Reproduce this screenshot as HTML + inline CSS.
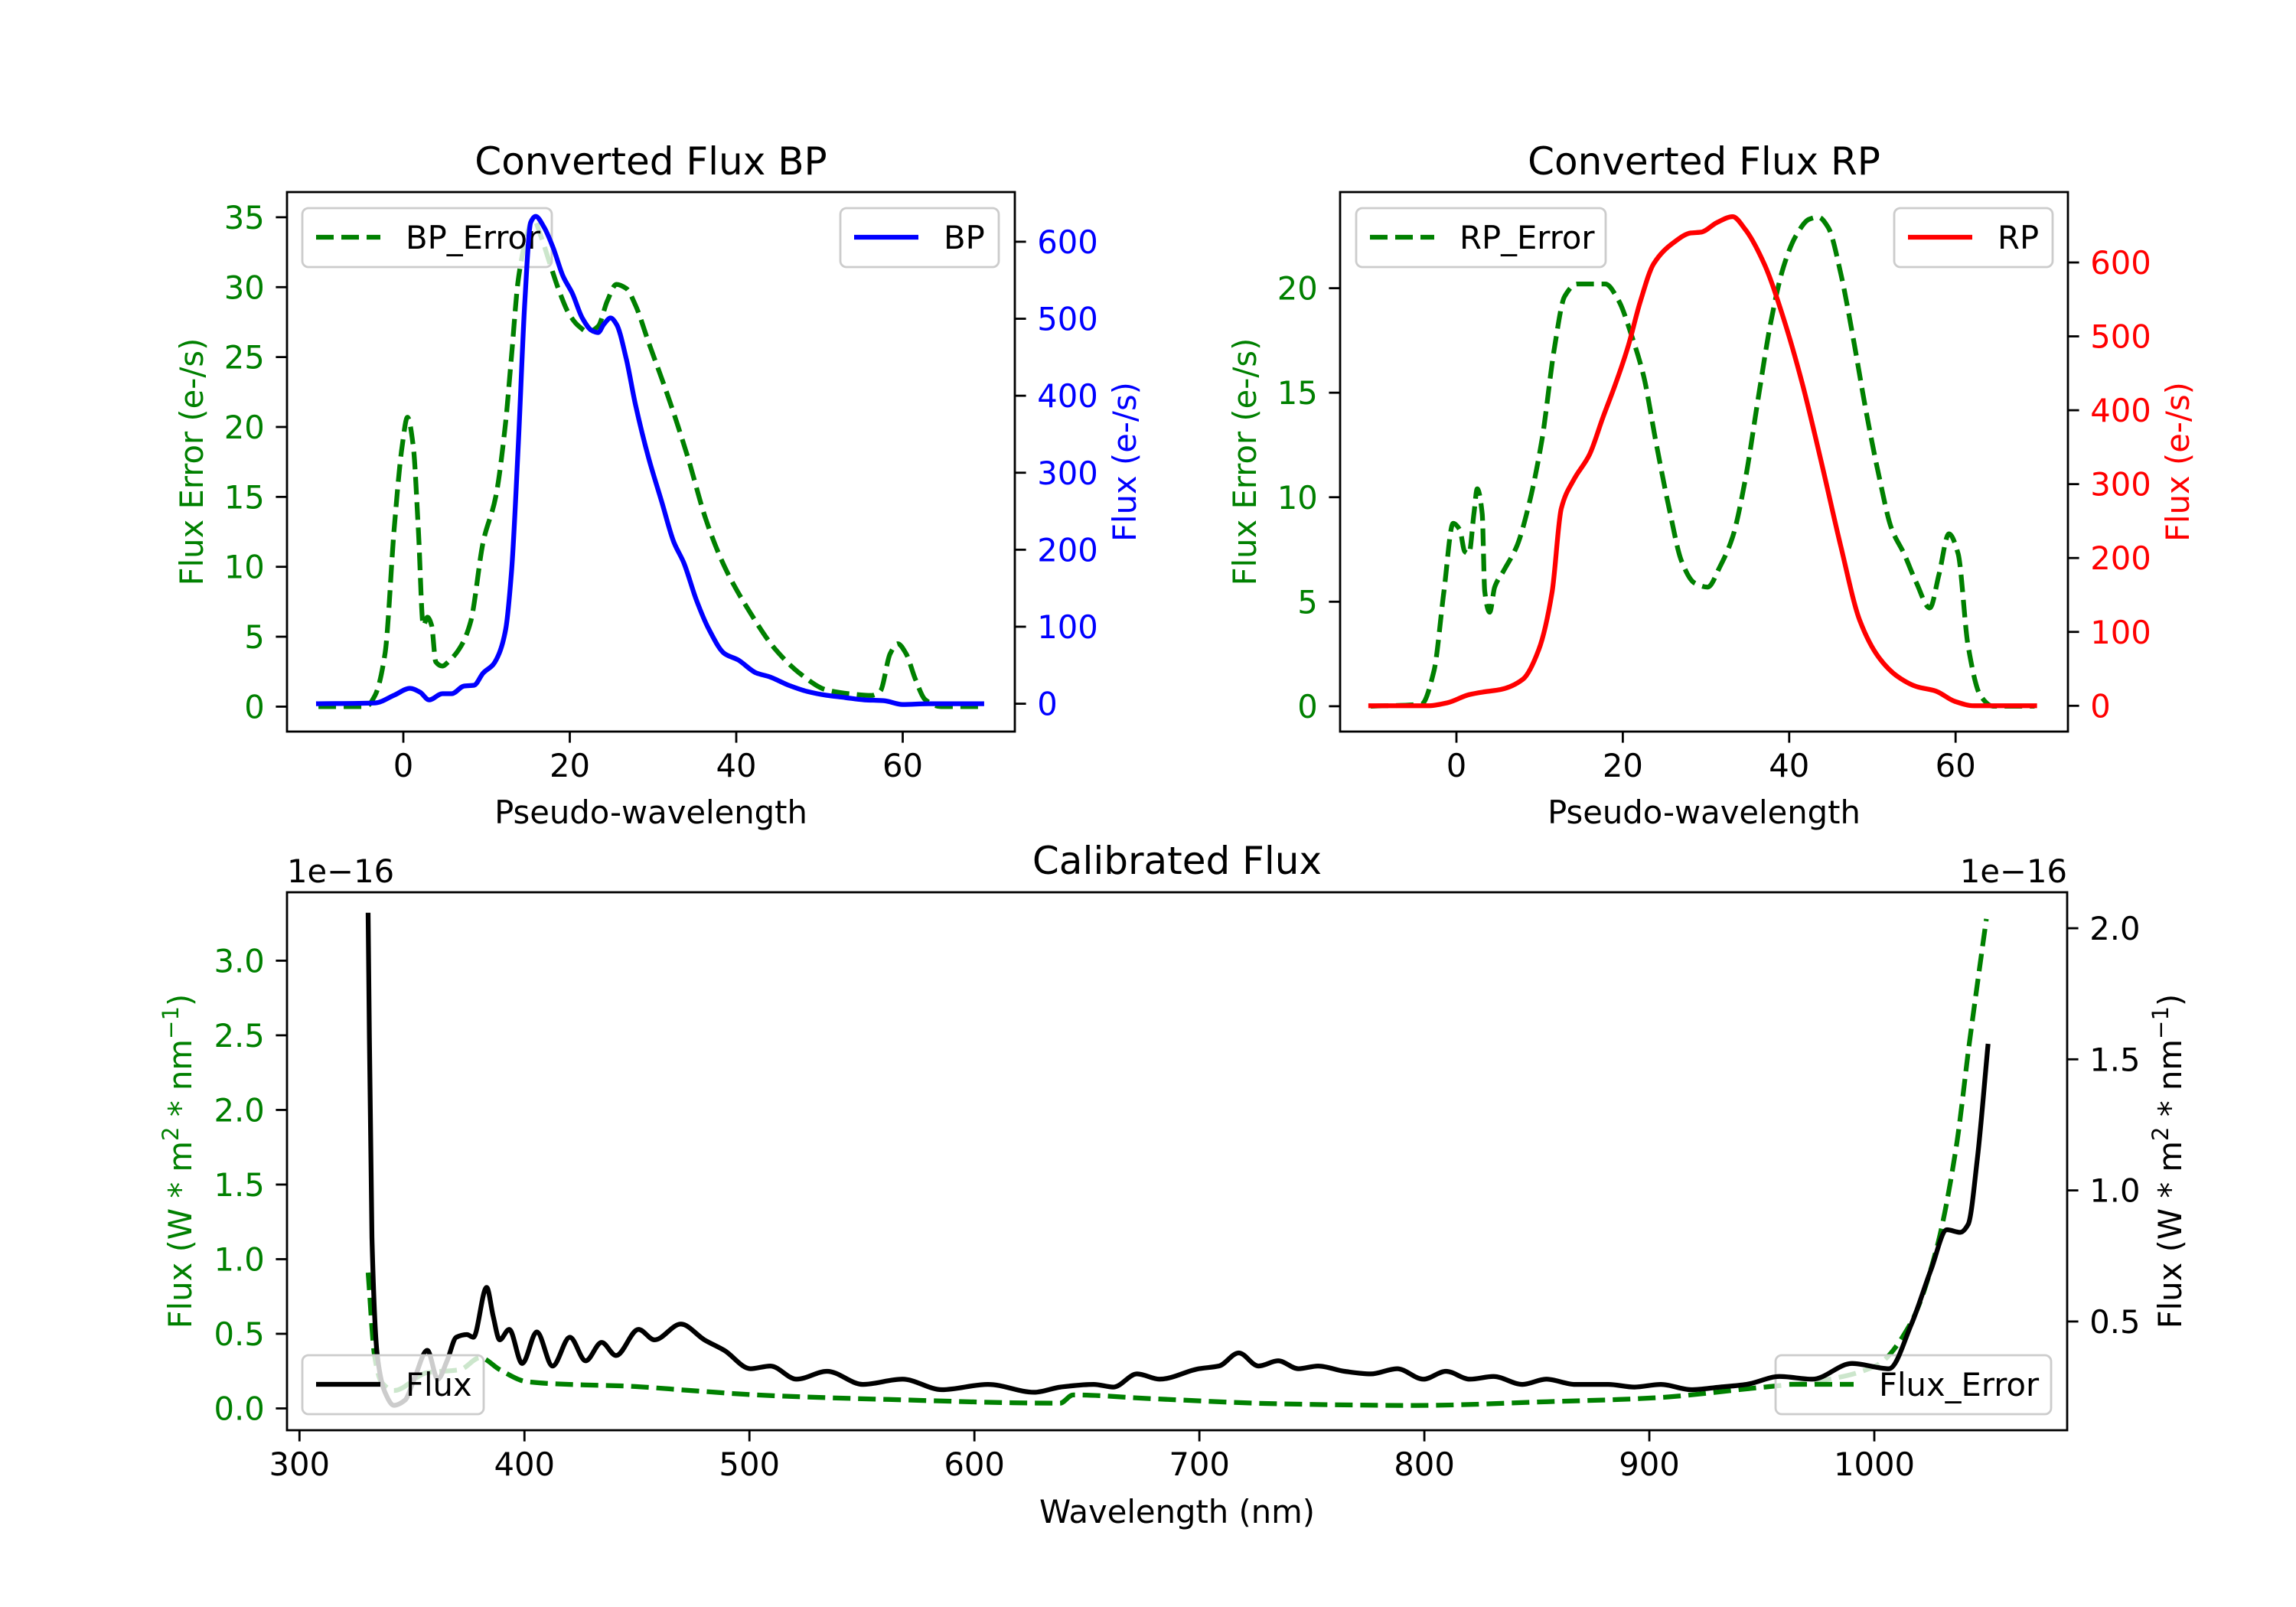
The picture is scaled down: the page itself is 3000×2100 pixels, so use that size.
<!DOCTYPE html>
<html><head><meta charset="utf-8">
<style>
html,body{margin:0;padding:0;background:#fff;}
svg{display:block;font-family:"DejaVu Sans","Liberation Sans",sans-serif;}
</style></head>
<body>
<svg id="fig" width="3000" height="2100" viewBox="0 0 3000 2100" xmlns="http://www.w3.org/2000/svg">
<rect x="0" y="0" width="3000" height="2100" fill="#fff"/>
</svg>
<script>
// ---- BP panel data ----
const bpX = [-10.2,-3.4,-1.1,0.8,2,3.1,4.7,5.8,7.3,8.5,9.6,10.8,11.5,12.3,13,13.8,14.6,15.3,15.9,16.9,18,19.2,20.3,21.5,22.6,23.4,24.1,24.9,25.6,26.8,27.9,29.5,31,32.5,33.7,35.2,36.7,38.6,40.2,42.4,44,46.3,48.5,50.8,53.1,55.4,57.7,60,63.1,69.5];
const bpFlux = [0,1,11,20,15,5,13,13,23,24,40,51,65,97,172,334,523,625,633,619,592,555,533,501,485,482,493,501,493,447,388,318,264,210,183,135,97,65,57,40,35,24,16,11,8,5,4,-1,0,0];
const bpErrX = [-10.2,-4.5,-3.4,-2.2,-1.1,-0.15,0.5,1.2,1.8,2.4,2.9,3.4,3.9,4.7,5.4,7,8.1,9.6,11.1,12.3,13,13.8,14.6,15.6,16.5,17.6,18.8,19.9,21.1,22.2,23.4,24.5,25.6,26.8,27.9,29.5,31.8,34.1,36.4,38.6,41.7,44.7,47.8,50.8,53.9,56.2,57.3,58.5,59.4,60.4,61.5,62.7,64.6,69.5];
const bpErr = [0,0,0.8,3.8,12.7,18.6,20.7,18.6,12.7,5.8,6.4,5.8,3.2,2.9,3.2,4.4,6.1,11.8,15,20.4,25.1,30.5,33.1,34.9,33.7,31.7,29.6,28.1,27.2,26.8,27.2,29,30.2,29.9,28.7,26,22.2,18,13.3,10,6.7,4.1,2.3,1.2,0.9,0.8,1.1,3.8,4.5,3.8,2,0.5,0,0];
// ---- RP panel data ----
const rpX = [-10.3,-3.4,-1.1,1.5,3.4,5.3,8,9.9,11.5,12.6,14.1,16,17.6,19.1,20.6,22.1,23.7,26,28.2,29.4,31.3,33.2,34.7,37,39.3,41.6,43.9,46.2,48.5,50.8,53.1,55.3,57.6,59.9,62.2,69.5];
const rpFlux = [0,0,4,15,19,22,36,76,154,267,306,340,390,435,485,547,598,626,640,641,654,662,645,598,525,435,328,216,115,65,39,26,20,6,0,0];
const rpErrX = [-10.3,-4.2,-2.7,-1.5,-0.4,0.4,1,1.5,2.1,2.5,3.1,3.4,4,4.6,5.7,7.3,8.8,10.3,11.8,13,14.5,17.9,19.5,21,22.5,24,25.6,27.1,28.6,30.2,31.7,33.2,34.7,36.3,37.8,39.3,40.8,42.4,43.5,44.7,46.2,47.7,49.2,50.8,52.3,53.8,55.3,56.9,58,59.2,60.3,61.5,63,64.5,69.5];
const rpErr = [0,0.1,1.7,5.5,8.75,8.45,7.4,7.3,9.2,10.4,9.2,5.5,4.5,5.7,6.5,7.7,9.8,12.8,17.2,19.6,20.2,20.2,19.4,17.8,15.8,12.6,9.4,6.9,5.9,5.7,6.7,8.1,10.8,14.8,18.4,21,22.5,23.3,23.4,22.9,20.7,17.6,14.2,11,8.5,7.3,5.9,4.7,6.3,8.25,7.3,2.9,0.5,0,0];
// ---- Calibrated panel data (units of 1e-16) ----
const calX = [330.5,332.2,334.6,338,342,346.9,351,356.8,361.5,365.6,369.7,374.4,377.3,383.2,386.1,389,393.2,399,405.5,412.5,420.2,427.2,434.3,440.7,450.7,457.8,469.5,480,488.8,500.5,509.3,521,534.5,550.4,568,585.6,606,626.6,638.3,653,661.8,672.3,682.3,699.9,708.7,717.5,726.3,735,744,752.8,764.5,776.2,787.9,799.6,809.6,820.2,830.7,843.6,854.2,867,881.7,893.4,905.1,918.6,931.5,943.2,957.9,972.5,990.1,1006.5,1016.5,1025.3,1032.3,1038.2,1041.7,1045.8,1050.5];
const calFlux = [2.05,0.82,0.37,0.23,0.18,0.2,0.28,0.39,0.28,0.35,0.44,0.45,0.44,0.63,0.52,0.43,0.47,0.34,0.46,0.33,0.44,0.35,0.42,0.37,0.47,0.43,0.49,0.43,0.39,0.32,0.33,0.28,0.31,0.26,0.28,0.24,0.26,0.23,0.25,0.26,0.25,0.3,0.28,0.32,0.33,0.38,0.33,0.35,0.32,0.33,0.31,0.3,0.32,0.28,0.31,0.28,0.29,0.26,0.28,0.26,0.26,0.25,0.26,0.24,0.25,0.26,0.29,0.28,0.34,0.32,0.49,0.7,0.85,0.84,0.87,1.12,1.55];
const calErrX = [330.5,333.4,336.3,342,356.8,371.4,380.3,389,400.8,421.3,444.7,474,503.3,561.9,638,643.9,679,737.6,796.2,854.8,901.6,942.6,977.7,1001.2,1015.8,1027.5,1036.3,1042.2,1049.8];
const calErr = [0.91,0.35,0.18,0.12,0.24,0.26,0.34,0.26,0.18,0.16,0.15,0.12,0.09,0.06,0.035,0.09,0.065,0.03,0.02,0.045,0.07,0.13,0.19,0.29,0.56,1.06,1.74,2.44,3.28];
// ---- tick labels ----
const pseudoTicks = [0,20,40,60];
const bpLeftTicks = [0,5,10,15,20,25,30,35];
const bpRightTicks = [0,100,200,300,400,500,600];
const rpLeftTicks = [0,5,10,15,20];
const rpRightTicks = [0,100,200,300,400,500,600];
const wlTicks = [300,400,500,600,700,800,900,1000];
const calLeftTicks = ["0.0","0.5","1.0","1.5","2.0","2.5","3.0"];
const calRightTicks = ["0.5","1.0","1.5","2.0"];

const NS = "http://www.w3.org/2000/svg";
const svg = document.getElementById('fig');
const FS = 41.7, TK = 14.6, PAD = 14.6, LW = 6.25;
function el(tag, attrs, parent, text){
  const e = document.createElementNS(NS, tag);
  for (const k in attrs) e.setAttribute(k, attrs[k]);
  if (text !== undefined) e.textContent = text;
  (parent || svg).appendChild(e);
  return e;
}
function lin(d0,d1,p0,p1){ return v => p0 + (v-d0)*(p1-p0)/(d1-d0); }
// monotone cubic (Fritsch-Carlson) in pixel space
function pathD(xs, ys, sx, sy){
  const n = xs.length;
  const px = xs.map(v=>sx(+v)), py = ys.map(v=>sy(+v));
  if (n < 3) return 'M'+px[0]+','+py[0]+'L'+px[1]+','+py[1];
  const d = [], m = new Array(n);
  for (let i=0;i<n-1;i++) d.push((py[i+1]-py[i])/(px[i+1]-px[i]));
  m[0]=d[0]; m[n-1]=d[n-2];
  for (let i=1;i<n-1;i++){
    if (d[i-1]*d[i] <= 0) m[i]=0;
    else { const h0=px[i]-px[i-1], h1=px[i+1]-px[i];
      const w1=2*h1+h0, w2=h1+2*h0;
      m[i]=(w1+w2)/(w1/d[i-1]+w2/d[i]); }
  }
  let s = 'M'+px[0].toFixed(1)+','+py[0].toFixed(1);
  for (let i=0;i<n-1;i++){
    const h = (px[i+1]-px[i])/3;
    s += 'C'+(px[i]+h).toFixed(1)+','+(py[i]+m[i]*h).toFixed(1)+' '+
         (px[i+1]-h).toFixed(1)+','+(py[i+1]-m[i+1]*h).toFixed(1)+' '+
         px[i+1].toFixed(1)+','+py[i+1].toFixed(1);
  }
  return s;
}
function frame(g, L,T,R,B){
  const r = el('rect',{x:L,y:T,width:R-L,height:B-T,fill:'none',stroke:'#000','stroke-width':2.8}, g);
  
  
}
function xTicks(g, ticks, sx, B){
  ticks.forEach(t=>{
    const x = sx(+t);
    const l = el('line',{x1:x,y1:B,x2:x,y2:B+TK,stroke:'#000','stroke-width':2.8}, g);
    
    
    const tx = el('text',{x:x,y:B+TK+PAD+30,'text-anchor':'middle','font-size':FS,fill:'#000'}, g, String(t));
    
    
  });
}
function yTicks(g, ticks, sy, X, side, color){
  ticks.forEach(t=>{
    const y = sy(+t);
    const x2 = side==='left' ? X-TK : X+TK;
    const l = el('line',{x1:X,y1:y,x2:x2,y2:y,stroke:'#000','stroke-width':2.8}, g);
    
    
    const tx = el('text',{x: side==='left'? X-TK-PAD : X+TK+PAD, y:y+15,'text-anchor': side==='left'?'end':'start','font-size':FS,fill:color}, g, String(t));
    
    
  });
}
function line(g, xs, ys, sx, sy, color, dashed, name){
  const p = el('path',{d:pathD(xs,ys,sx,sy),fill:'none',stroke:color,'stroke-width':LW,'stroke-linejoin':'round','stroke-linecap': dashed?'butt':'square'}, g);
  if (dashed) p.setAttribute('stroke-dasharray','23,10');
  
  
}
function legend(g, x, y, w, label, color, dashed, name){
  const lg = el('g',{}, g);
  
  
  el('rect',{x:x,y:y,width:w,height:77,rx:8,ry:8,fill:'#fff','fill-opacity':0.8,stroke:'#cccccc','stroke-width':2.8}, lg);
  const h = el('line',{x1:x+18,y1:y+38,x2:x+102,y2:y+38,stroke:color,'stroke-width':LW}, lg);
  if (dashed) h.setAttribute('stroke-dasharray','23,10');
  el('text',{x:x+135,y:y+53,'font-size':FS,fill:'#000'}, lg, label);
}
function vlabel(g, x, y, color, name, parts){
  const t = el('text',{x:0,y:0,'text-anchor':'middle','font-size':FS,fill:color,transform:`translate(${x},${y}) rotate(-90)`}, g);
  
  
  parts.forEach(p=>{
    el('tspan', p.sup ? {'baseline-shift':'super','font-size':FS*0.7} : {}, t, p.t);
  });
}

// ================= BP panel =================
(function(){
  const g = el('g',{});  
  const L=375,T=251,R=1326,B=956;
  const sx = lin(0,20,527,744.5);
  const syL = lin(0,35,923.4,283.9);
  const syR = lin(0,600,919.6,315.9);
  const t = el('text',{x:(L+R)/2,y:228,'text-anchor':'middle','font-size':50,fill:'#000'}, g, 'Converted Flux BP');
   
  line(g, bpErrX, bpErr, sx, syL, '#008000', true, 'bp-error-line');
  legend(g, 395, 272, 326, 'BP_Error', '#008000', true, 'bp-error-legend');
  line(g, bpX, bpFlux, sx, syR, '#0000ff', false, 'bp-flux-line');
  legend(g, 1098, 272, 207, 'BP', '#0000ff', false, 'bp-legend');
  frame(g,L,T,R,B);
  xTicks(g, pseudoTicks, sx, B);
  yTicks(g, bpLeftTicks, syL, L, 'left', '#008000');
  yTicks(g, bpRightTicks, syR, R, 'right', '#0000ff');
  const xl = el('text',{x:(L+R)/2,y:1076,'text-anchor':'middle','font-size':FS,fill:'#000'}, g, 'Pseudo-wavelength');
   
  vlabel(g, 265, (T+B)/2, '#008000', 'bp-left-y-axis-title', [{t:'Flux Error (e-/s)'}]);
  vlabel(g, 1484, (T+B)/2, '#0000ff', 'bp-right-y-axis-title', [{t:'Flux (e-/s)'}]);
})();

// ================= RP panel =================
(function(){
  const g = el('g',{});  
  const L=1751,T=251,R=2702,B=956;
  const sx = lin(0,20,1903,2120.4);
  const syL = lin(0,20,922.9,376.6);
  const syR = lin(0,600,922.3,343);
  const t = el('text',{x:(L+R)/2,y:228,'text-anchor':'middle','font-size':50,fill:'#000'}, g, 'Converted Flux RP');
   
  line(g, rpErrX, rpErr, sx, syL, '#008000', true, 'rp-error-line');
  legend(g, 1772, 272, 326, 'RP_Error', '#008000', true, 'rp-error-legend');
  line(g, rpX, rpFlux, sx, syR, '#ff0000', false, 'rp-flux-line');
  legend(g, 2475, 272, 207, 'RP', '#ff0000', false, 'rp-legend');
  frame(g,L,T,R,B);
  xTicks(g, pseudoTicks, sx, B);
  yTicks(g, rpLeftTicks, syL, L, 'left', '#008000');
  yTicks(g, rpRightTicks, syR, R, 'right', '#ff0000');
  const xl = el('text',{x:(L+R)/2,y:1076,'text-anchor':'middle','font-size':FS,fill:'#000'}, g, 'Pseudo-wavelength');
   
  vlabel(g, 1641, (T+B)/2, '#008000', 'rp-left-y-axis-title', [{t:'Flux Error (e-/s)'}]);
  vlabel(g, 2860, (T+B)/2, '#ff0000', 'rp-right-y-axis-title', [{t:'Flux (e-/s)'}]);
})();

// ================= Calibrated panel =================
(function(){
  const g = el('g',{});  
  const L=375,T=1166,R=2701,B=1869;
  const sx = lin(300,1000,391.3,2449);
  const syL = lin(0,3,1840.5,1255.4);
  const syR = lin(0.5,2,1726.9,1213);
  const t = el('text',{x:(L+R)/2,y:1142,'text-anchor':'middle','font-size':50,fill:'#000'}, g, 'Calibrated Flux');
   
  line(g, calErrX, calErr, sx, syL, '#008000', true, 'flux-error-line');
  legend(g, 2320, 1771, 360, 'Flux_Error', '#008000', true, 'flux-error-legend');
  line(g, calX, calFlux, sx, syR, '#000000', false, 'flux-line');
  legend(g, 395, 1771, 237, 'Flux', '#000000', false, 'flux-legend');
  frame(g,L,T,R,B);
  xTicks(g, wlTicks, sx, B);
  yTicks(g, calLeftTicks, syL, L, 'left', '#008000');
  yTicks(g, calRightTicks, syR, R, 'right', '#000000');
  const o1 = el('text',{x:L,y:1153,'text-anchor':'start','font-size':FS,fill:'#000'}, g, '1e\u221216');
   
  const o2 = el('text',{x:R,y:1153,'text-anchor':'end','font-size':FS,fill:'#000'}, g, '1e\u221216');
   
  const xl = el('text',{x:(L+R)/2,y:1990,'text-anchor':'middle','font-size':FS,fill:'#000'}, g, 'Wavelength (nm)');
   
  const parts = [{t:'Flux (W * m'},{t:'2',sup:true},{t:' * nm'},{t:'\u22121',sup:true},{t:')'}];
  vlabel(g, 250, (T+B)/2, '#008000', 'calibrated-left-y-axis-title', parts);
  vlabel(g, 2850, (T+B)/2, '#000000', 'calibrated-right-y-axis-title', parts);
})();
</script>
</body></html>
